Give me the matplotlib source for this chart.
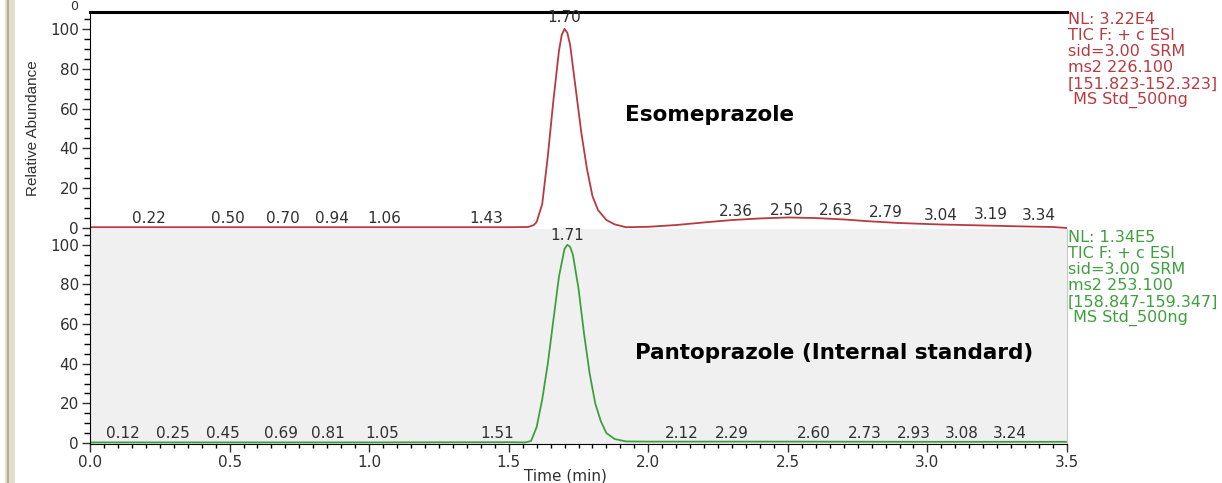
import matplotlib.pyplot as plt
from matplotlib.ticker import MultipleLocator
from matplotlib.patches import Rectangle

plt.rcParams['font.family'] = ['DejaVu Sans']

# Esomeprazole trace (time in min, relative abundance)
eso_time = [0.0, 0.50, 1.00, 1.50, 1.57, 1.59, 1.60, 1.62, 1.64, 1.66, 1.68, 1.69, 1.70, 1.71, 1.72,
            1.74, 1.76, 1.78, 1.80, 1.82, 1.85, 1.88, 1.92, 2.00, 2.10, 2.20, 2.30, 2.40, 2.50,
            2.60, 2.70, 2.80, 2.90, 3.04, 3.19, 3.34, 3.45, 3.50]
eso_abund = [0.4, 0.4, 0.4, 0.4, 0.5, 1.5, 3, 12, 36, 64, 89, 97, 100, 98, 92,
             70, 48, 30, 16, 9, 4, 1.8, 0.4, 0.6, 1.5, 2.8, 4.0, 4.8, 5.3,
             5.0, 4.3, 3.3, 2.5, 1.8, 1.3, 0.8, 0.5, 0.0]
eso_peaks = [0.22, 0.50, 0.70, 0.94, 1.06, 1.43, 2.36, 2.50, 2.63, 2.79, 3.04, 3.19, 3.34]
# where the software put each peak label (x in min, y in %)
eso_lab_x = [0.211, 0.493, 0.692, 0.866, 1.053, 1.418, 2.314, 2.497, 2.672, 2.851, 3.048, 3.227, 3.40]
eso_lab_y = [4.9, 4.9, 4.9, 4.9, 4.9, 4.9, 8.2, 9.0, 8.8, 8.0, 6.5, 6.8, 6.3]

# Pantoprazole (IS) trace
pan_time = [0.0, 0.50, 1.00, 1.50, 1.56, 1.58, 1.60, 1.62, 1.64, 1.66, 1.68, 1.70, 1.71, 1.72, 1.73,
            1.75, 1.77, 1.79, 1.81, 1.83, 1.85, 1.88, 1.92, 2.00, 2.50, 3.00, 3.50]
pan_abund = [0.3, 0.3, 0.3, 0.4, 0.3, 1, 8, 22, 40, 62, 84, 98, 100, 99, 95,
             78, 55, 35, 20, 11, 5, 2, 0.8, 0.7, 0.7, 0.6, 0.6]
pan_peaks = [0.12, 0.25, 0.45, 0.69, 0.81, 1.05, 1.51, 2.12, 2.29, 2.60, 2.73, 2.93, 3.08, 3.24]
pan_lab_x = [0.116, 0.298, 0.475, 0.684, 0.851, 1.048, 1.457, 2.120, 2.299, 2.592, 2.777, 2.952,
             3.123, 3.296]

eso_info = ["NL: 3.22E4", "TIC F: + c ESI", "sid=3.00  SRM", "ms2 226.100",
            "[151.823-152.323]", " MS Std_500ng"]
pan_info = ["NL: 1.34E5", "TIC F: + c ESI", "sid=3.00  SRM", "ms2 253.100",
            "[158.847-159.347]", " MS Std_500ng"]

red = "#b83a40"
green = "#3f9f3f"
txt = "#303030"
fs = 11

W, H = 1222, 483
fig = plt.figure(figsize=(W / 100, H / 100), dpi=100)


def box(x0, y0, x1, y1):
    # pixel box (from top-left) -> figure rect
    return [x0 / W, 1 - y1 / H, (x1 - x0) / W, (y1 - y0) / H]


ax1 = fig.add_axes(box(90, 12, 1067, 229))
ax2 = fig.add_axes(box(90, 229, 1067, 444))

ax1.plot(eso_time, eso_abund, color=red, lw=1.3)
ax2.plot(pan_time, pan_abund, color=green, lw=1.3)
ax2.set_facecolor("#f0f0f0")

for ax in (ax1, ax2):
    ax.set_xlim(0, 3.5)
    ax.yaxis.set_major_locator(MultipleLocator(20))
    ax.yaxis.set_minor_locator(MultipleLocator(5))
    ax.tick_params(axis="y", which="major", length=6, width=1, labelsize=fs, pad=2, colors=txt)
    ax.tick_params(axis="y", which="minor", length=4, width=1)
    ax.spines["right"].set_visible(False)
    ax.spines["top"].set_visible(False)

ax1.set_ylim(-0.5, 108.5)
ax2.set_ylim(-0.5, 108)
ax1.set_yticks([0, 20, 40, 60, 80, 100])
ax2.set_yticks([0, 20, 40, 60, 80, 100])

ax1.spines["bottom"].set_visible(False)
ax1.spines["top"].set_visible(True)
ax1.spines["top"].set_linewidth(2.2)
ax1.set_xticks([])

ax2.spines["right"].set_visible(True)
ax2.spines["right"].set_color("#c8c8c8")
ax2.xaxis.set_major_locator(MultipleLocator(0.5))
ax2.xaxis.set_minor_locator(MultipleLocator(0.05))
ax2.xaxis.set_major_formatter(lambda v, p: f"{v:.1f}")
ax2.tick_params(axis="x", which="major", length=6, width=1, labelsize=fs, pad=2, colors=txt)
ax2.tick_params(axis="x", which="minor", length=3, width=1)

# peak labels
for t, x, y in zip(eso_peaks, eso_lab_x, eso_lab_y):
    ax1.text(x, y, f"{t:.2f}", ha="center", va="center", fontsize=fs, color=txt)
ax1.text(1.70, 105.5, "1.70", ha="center", va="center", fontsize=fs, color=txt)
for t, x in zip(pan_peaks, pan_lab_x):
    ax2.text(x, 5, f"{t:.2f}", ha="center", va="center", fontsize=fs, color=txt)
ax2.text(1.71, 104.5, "1.71", ha="center", va="center", fontsize=fs, color=txt)

ax1.text(2.22, 57, "Esomeprazole", ha="center", va="center", fontsize=15.5,
         fontweight="bold", color="black")
ax2.text(2.666, 45.5, "Pantoprazole (Internal standard)", ha="center", va="center", fontsize=15.5,
         fontweight="bold", color="black")

# scan info on the right
for i, s in enumerate(eso_info):
    fig.text(1068 / W, 1 - (20 + 16 * i) / H, s, ha="left", va="center", fontsize=11.5, color=red)
for i, s in enumerate(pan_info):
    fig.text(1068 / W, 1 - (238 + 16 * i) / H, s, ha="left", va="center", fontsize=11.5, color=green)

fig.text(33 / W, 1 - 128 / H, "Relative Abundance", rotation=90, ha="center", va="center",
         fontsize=11, family="Liberation Sans", color=txt)
fig.text(565 / W, 1 - 476 / H, "Time (min)", ha="center", va="center", fontsize=fs, color=txt)
fig.text(74 / W, 1 - 6 / H, "0", ha="center", va="center", fontsize=9, color=txt)

# window border on the left
fig.patches.append(Rectangle((5 / W, 0), 10 / W, 1, transform=fig.transFigure,
                             facecolor="#e2dccb", edgecolor="none"))
fig.patches.append(Rectangle((7 / W, 0), 2 / W, 1, transform=fig.transFigure,
                             facecolor="#b5ad95", edgecolor="none"))

fig.savefig("out.png", dpi=100)
